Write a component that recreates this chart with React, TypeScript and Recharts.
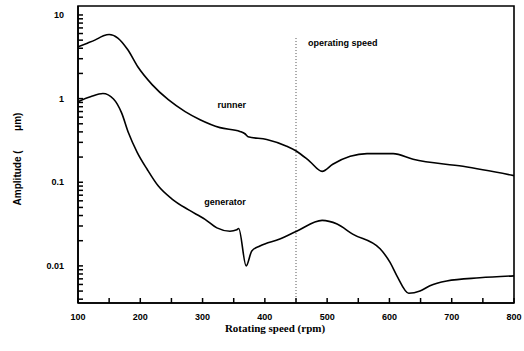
import { LineChart, Line, XAxis, YAxis, ReferenceLine, ReferenceDot, ReferenceArea } from 'recharts'

// runner response, rpm vs amplitude (µm)
const runnerRpm = [100, 115, 127, 140, 150, 164, 180, 196, 219, 245, 272, 296, 328, 360, 368, 373, 403, 435, 451, 472, 492, 509, 537, 564, 606, 638, 718, 800]
const runnerAmp = [4.16, 4.6, 5.0, 5.6, 5.85, 5.3, 3.83, 2.4, 1.47, 0.97, 0.7, 0.56, 0.45, 0.405, 0.38, 0.35, 0.325, 0.27, 0.235, 0.178, 0.135, 0.164, 0.204, 0.22, 0.22, 0.188, 0.155, 0.12]

// generator response
const generatorRpm = [100, 120, 140, 157, 170, 181, 195, 211, 229, 251, 277, 304, 323, 344, 355, 358, 370, 379, 392, 424, 451, 492, 516, 541, 585, 601, 612, 631, 649, 665, 692, 745, 800]
const generatorAmp = [0.92, 1.05, 1.15, 0.99, 0.675, 0.39, 0.228, 0.143, 0.09, 0.063, 0.047, 0.036, 0.0285, 0.026, 0.027, 0.028, 0.01, 0.0151, 0.0173, 0.021, 0.026, 0.035, 0.0316, 0.024, 0.016, 0.011, 0.0076, 0.0047, 0.005, 0.0058, 0.0066, 0.0072, 0.0076]

const operatingSpeed = 450

const xTicks = [100, 150, 200, 250, 300, 350, 400, 450, 500, 550, 600, 650, 700, 750, 800]
const xLabels = [100, 200, 300, 400, 500, 600, 700, 800]

const yTicks = [
  0.004, 0.005, 0.006, 0.007, 0.008, 0.009,
  0.01, 0.02, 0.03, 0.04, 0.05, 0.06, 0.07, 0.08, 0.09,
  0.1, 0.2, 0.3, 0.4, 0.5, 0.6, 0.7, 0.8, 0.9,
  1, 2, 3, 4, 5, 6, 7, 8, 9,
  10,
]
const yLabels = ['0.01', '0.1', '1', '10']

const X_DOMAIN = [100, 800]
const Y_DOMAIN = [0.0036, 12.8]

const runner = runnerRpm.map((rpm, i) => ({ rpm, amp: runnerAmp[i] }))
const generator = generatorRpm.map((rpm, i) => ({ rpm, amp: generatorAmp[i] }))

const tickFont = { fontFamily: '"Liberation Sans", Arial, sans-serif', fontSize: 9, fontWeight: 700, fill: '#000' }
const axisStroke = { stroke: '#000', strokeWidth: 1.6 }

function YTick(props: any) {
  const { x, y, payload } = props
  const label = yLabels.find((l) => Math.abs(Number(l) - payload.value) < 1e-9)
  if (!label) return <g />
  return (
    <text x={x} y={y} dy={3} textAnchor="end" style={tickFont}>
      {label}
    </text>
  )
}

function XTick(props: any) {
  const { x, y, payload } = props
  if (!xLabels.includes(payload.value)) return <g />
  return (
    <text x={x} y={y} dy={9} textAnchor="middle" style={tickFont}>
      {payload.value}
    </text>
  )
}

const noteStyle = { fontFamily: '"Liberation Sans", Arial, sans-serif', fontSize: 9, fontWeight: 700, fill: '#000' }

export default function App() {
  return (
    <div style={{ position: 'absolute', left: 0, top: 0, background: '#fff' }}>
      <LineChart width={524} height={351} data={runner} margin={{ top: 6, right: 10, bottom: 18, left: 0 }}>
        <XAxis
          dataKey="rpm"
          type="number"
          domain={X_DOMAIN}
          ticks={xTicks}
          interval={0}
          tick={(p: any) => <XTick {...p} />}
          tickLine={{ stroke: '#000', strokeWidth: 1.5 }}
          tickSize={-5}
          tickMargin={13}
          height={30}
          axisLine={axisStroke}
          allowDataOverflow
        />
        <YAxis
          dataKey="amp"
          type="number"
          scale="log"
          domain={Y_DOMAIN}
          ticks={yTicks}
          interval={0}
          tick={(p: any) => <YTick {...p} />}
          tickLine={{ stroke: '#000', strokeWidth: 1.5 }}
          tickSize={-5}
          tickMargin={19}
          width={78}
          axisLine={axisStroke}
          allowDataOverflow
        />
        {/* box around the plot area */}
        <ReferenceArea x1={X_DOMAIN[0]} x2={X_DOMAIN[1]} y1={Y_DOMAIN[0]} y2={Y_DOMAIN[1]} fill="none" stroke="#000" strokeWidth={1.6} ifOverflow="visible" />
        <ReferenceLine
          segment={[{ x: operatingSpeed, y: 5.3 }, { x: operatingSpeed, y: Y_DOMAIN[0] }]}
          stroke="#555"
          strokeDasharray="1 2"
        />
        <Line data={runner} dataKey="amp" type="monotone" stroke="#000" strokeWidth={1.6} dot={false} isAnimationActive={false} />
        <Line data={generator} dataKey="amp" type="monotone" stroke="#000" strokeWidth={1.6} dot={false} isAnimationActive={false} />
        <ReferenceDot x={525} y={4.64} r={0} label={{ value: 'operating speed', position: 'center', style: noteStyle }} />
        <ReferenceDot x={347} y={0.85} r={0} label={{ value: 'runner', position: 'center', style: noteStyle }} />
        <ReferenceDot x={336} y={0.059} r={0} label={{ value: 'generator', position: 'center', style: noteStyle }} />
        <text
          x={275}
          y={332}
          textAnchor="middle"
          style={{ fontFamily: '"Liberation Serif", "Times New Roman", serif', fontSize: 11, fontWeight: 700, fill: '#000' }}
        >
          Rotating speed (rpm)
        </text>
        <text
          x={21}
          y={159}
          textAnchor="middle"
          transform="rotate(-90 21 159)"
          style={{ fontFamily: '"Liberation Sans", Arial, sans-serif', fontSize: 10, fontWeight: 700, fill: '#000', whiteSpace: 'pre' }}
        >
          {'Amplitude (       μm)'}
        </text>
      </LineChart>
    </div>
  )
}
